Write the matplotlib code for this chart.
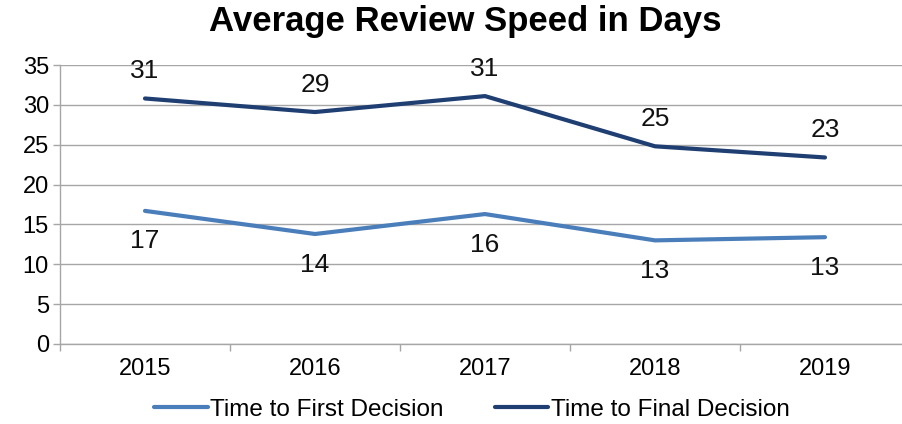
"""Average review speed in days, first vs final decision."""

import matplotlib
matplotlib.use("Agg")
import matplotlib.pyplot as plt
from matplotlib.ticker import FixedLocator

years = ["2015", "2016", "2017", "2018", "2019"]
first_decision = [16.7, 13.8, 16.3, 13.0, 13.4]
final_decision = [30.8, 29.1, 31.1, 24.8, 23.4]
first_labels = ["17", "14", "16", "13", "13"]
final_labels = ["31", "29", "31", "25", "23"]

light_blue = "#4A7EBB"
dark_blue = "#1F3F73"
grid_gray = "#A6A6A6"

plt.rcParams["font.family"] = ["Liberation Sans", "DejaVu Sans"]

fig = plt.figure(figsize=(9.03, 4.24), dpi=100)
ax = fig.add_axes([60 / 903, 1 - 344 / 424, 850 / 903, 279 / 424])

x = list(range(len(years)))
ax.plot(x, first_decision, color=light_blue, lw=3, solid_capstyle="round",
        label="Time to First Decision")
ax.plot(x, final_decision, color=dark_blue, lw=3, solid_capstyle="round",
        label="Time to Final Decision")

for xi, yv, txt in zip(x, final_decision, final_labels):
    ax.annotate(txt, (xi, yv), xytext=(0, 19.5), textcoords="offset points",
                ha="center", va="center", fontsize=19, color="#111111")
for xi, yv, txt in zip(x, first_decision, first_labels):
    ax.annotate(txt, (xi, yv), xytext=(0, -22), textcoords="offset points",
                ha="center", va="center", fontsize=19, color="#111111")

ax.set_xlim(-0.5, 4.5)
ax.set_ylim(0, 35)
ax.set_yticks(range(0, 36, 5))
ax.set_xticks(x)
ax.set_xticklabels(years)
ax.xaxis.set_minor_locator(FixedLocator([-0.5, 0.5, 1.5, 2.5, 3.5, 4.5]))
ax.tick_params(axis="x", which="major", length=0, pad=10, labelsize=17)
ax.tick_params(axis="x", which="minor", length=5, color=grid_gray, width=1)
ax.tick_params(axis="y", length=5, color=grid_gray, width=1, labelsize=17, pad=3)

ax.grid(axis="y", color=grid_gray, lw=1)
ax.set_axisbelow(True)
for side in ("top", "right"):
    ax.spines[side].set_visible(False)
for side in ("left", "bottom"):
    ax.spines[side].set_color(grid_gray)
    ax.spines[side].set_linewidth(1)

fig.text(465 / 903, 1 - 22 / 424, "Average Review Speed in Days", ha="center",
         va="center", fontsize=25, fontweight="bold")

fig.legend(loc="center", bbox_to_anchor=(472 / 903, 1 - 410 / 424), ncol=2,
           frameon=False, fontsize=17.5, handlelength=2.2, handletextpad=0.1,
           columnspacing=2.1)

fig.savefig("out.png", dpi=100)
